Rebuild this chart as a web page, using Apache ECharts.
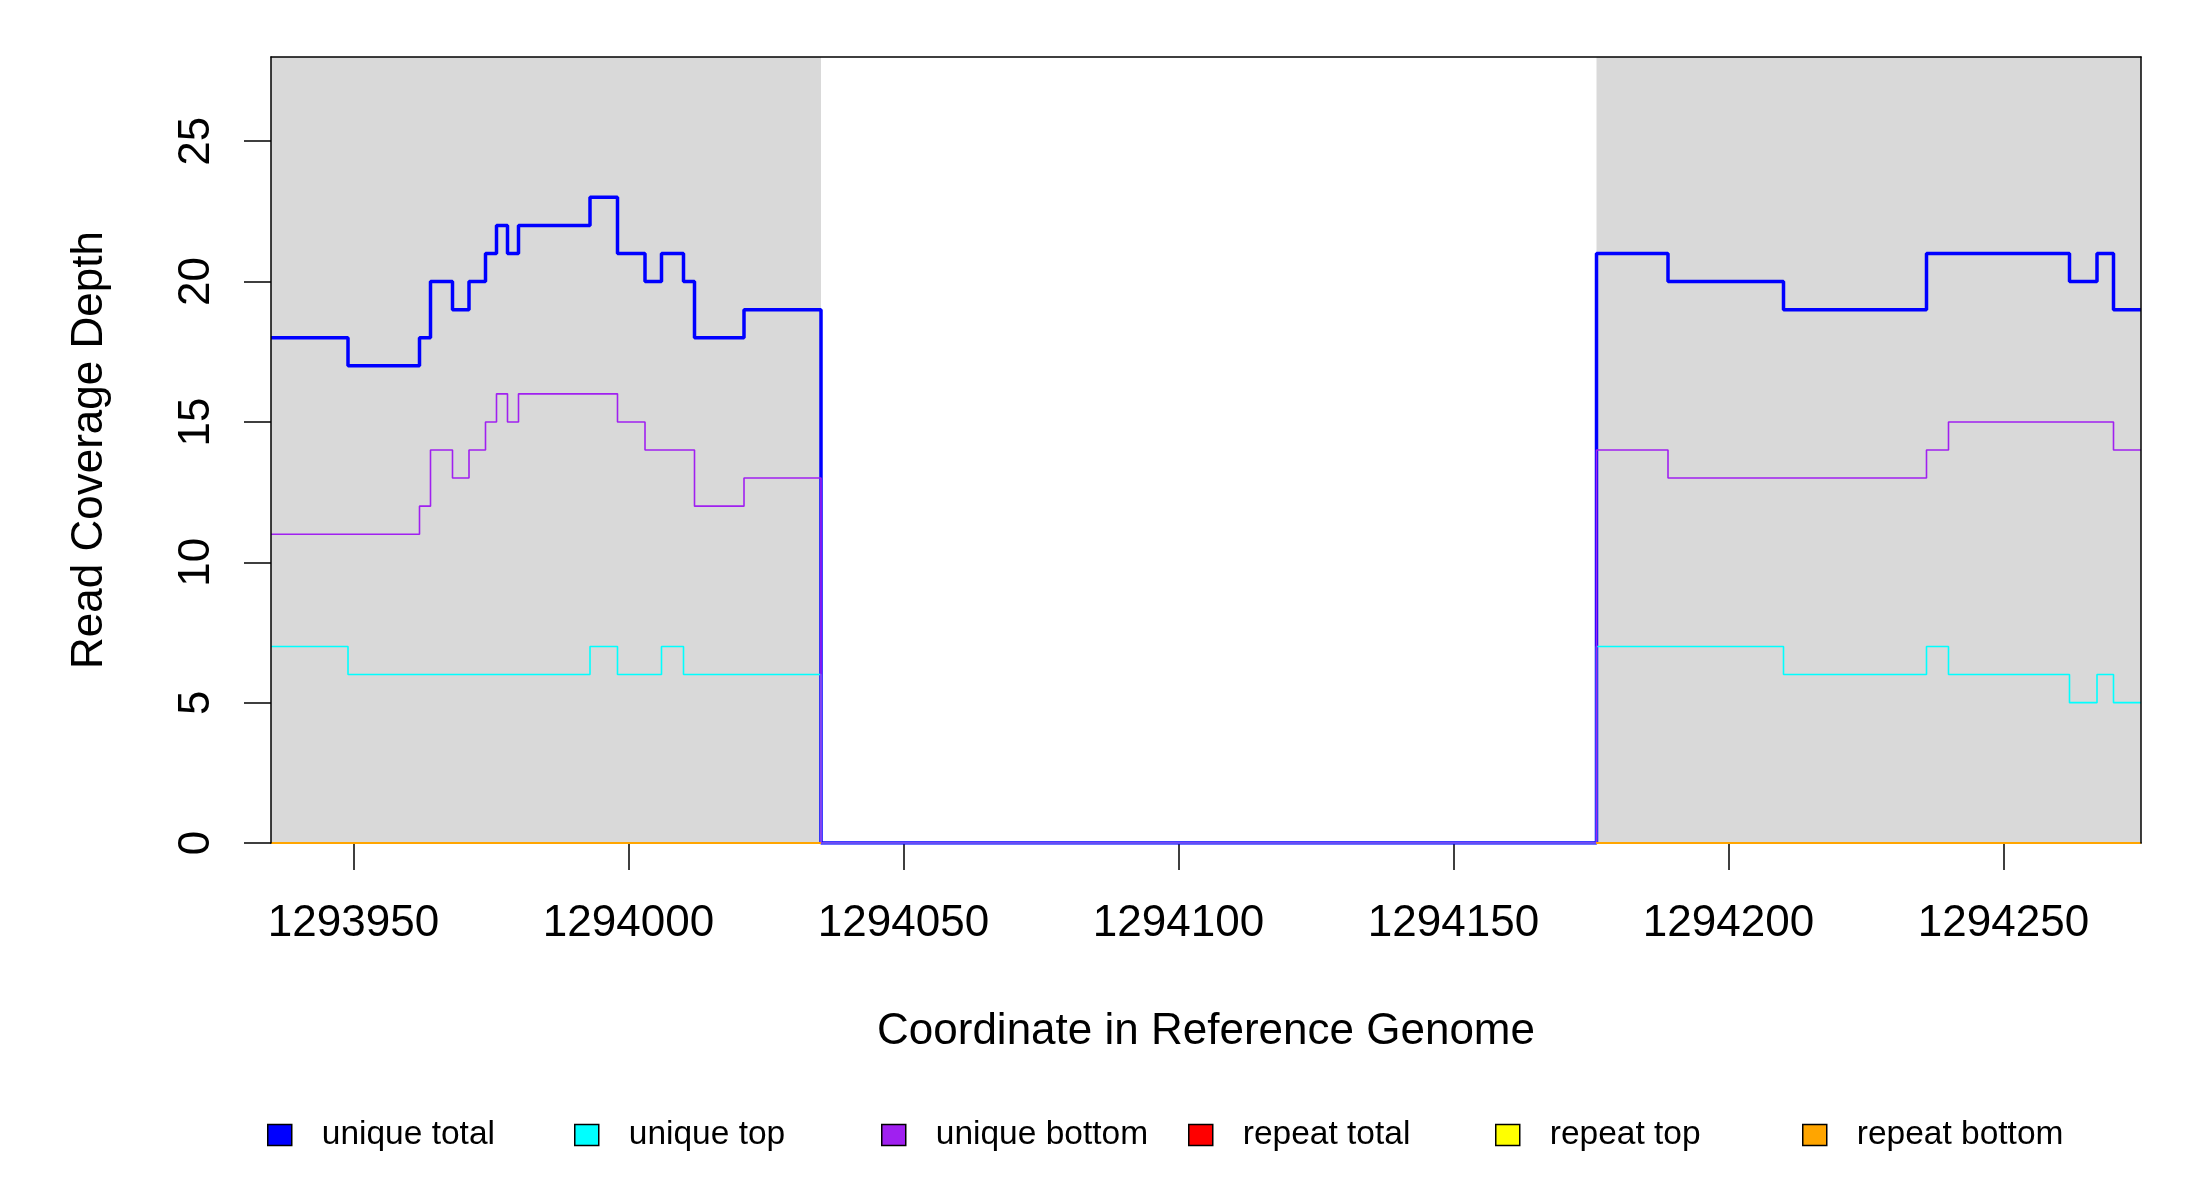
<!DOCTYPE html>
<html>
<head>
<meta charset="utf-8">
<script src="https://cdn.jsdelivr.net/npm/echarts@6/dist/echarts.min.js"></script>
<style>
  html, body { margin: 0; padding: 0; background: #fff; }
  #chart { width: 2200px; height: 1200px; }
</style>
</head>
<body>
<div id="chart"></div>
<script>
// step breakpoints: value i holds from positions[i] to positions[i + 1]
var positions = [1293935, 1293949, 1293962, 1293964, 1293968, 1293971, 1293974, 1293976, 1293978,
    1293980, 1293993, 1293998, 1294003, 1294006, 1294010, 1294012, 1294021, 1294035,
    1294176, 1294189, 1294210, 1294236, 1294240, 1294262, 1294267, 1294270, 1294275];
var uniqueTotal  = [18, 17, 18, 20, 19, 20, 21, 22, 21, 22, 23, 21, 20, 21, 20, 18, 19, 0,
    21, 20, 19, 21, 21, 20, 21, 19, 19];
var uniqueTop    = [7, 6, 6, 6, 6, 6, 6, 6, 6, 6, 7, 6, 6, 7, 6, 6, 6, 0,
    7, 7, 6, 7, 6, 5, 6, 5, 5];
var uniqueBottom = [11, 11, 12, 14, 13, 14, 15, 16, 15, 16, 16, 15, 14, 14, 14, 12, 13, 0,
    14, 13, 13, 14, 15, 15, 15, 14, 14];

// repeat coverage only exists inside the shaded regions (null = break)
var repeatPositions = [1293935, 1294035, 1294105, 1294176, 1294275];
var repeatTotal  = [0, 0, null, 0, 0];
var repeatTop    = [0, 0, null, 0, 0];
var repeatBottom = [0, 0, null, 0, 0];

// shaded regions
var regionStarts = [1293935, 1294176];
var regionEnds   = [1294035, 1294275];

var xTicks = [1293950, 1294000, 1294050, 1294100, 1294150, 1294200, 1294250];
var yTicks = [0, 5, 10, 15, 20, 25];

var seriesNames  = ['unique total', 'unique top', 'unique bottom', 'repeat total', 'repeat top', 'repeat bottom'];
var seriesColors = ['#0000FF', '#00FFFF', '#A020F0', '#FF0000', '#FFFF00', '#FFA500'];

var FONT = 'Liberation Sans, Arial, Helvetica, sans-serif';

function pairs(xs, ys) {
    return xs.map(function (x, i) { return [x, ys[i]]; });
}

var lineData = [
    pairs(positions, uniqueTotal),
    pairs(positions, uniqueTop),
    pairs(positions, uniqueBottom),
    pairs(repeatPositions, repeatTotal),
    pairs(repeatPositions, repeatTop),
    pairs(repeatPositions, repeatBottom)
];
var lineWidths = [3.5, 1.6, 1.6, 2, 2, 2];
var isStep = [true, true, true, false, false, false];

var series = [{
    // shaded background regions
    type: 'line',
    name: 'regions',
    data: [],
    silent: true,
    z: 1,
    markArea: {
        silent: true,
        itemStyle: { color: '#D9D9D9', opacity: 1 },
        data: regionStarts.map(function (s, i) {
            return [{ xAxis: s }, { xAxis: regionEnds[i] }];
        })
    }
}];
seriesNames.forEach(function (name, i) {
    series.push({
        type: 'line',
        name: name,
        data: lineData[i],
        step: isStep[i] ? 'end' : false,
        connectNulls: false,
        showSymbol: false,
        symbol: 'none',
        z: 3,
        lineStyle: { color: seriesColors[i], width: lineWidths[i] },
        itemStyle: { color: seriesColors[i] }
    });
});

var legendLefts = [262, 569, 876, 1183, 1490, 1797];
var legends = seriesNames.map(function (name, i) {
    return {
        data: [name],
        left: legendLefts[i],
        top: 1113,
        icon: 'rect',
        itemWidth: 24,
        itemHeight: 21,
        selectedMode: false,
        itemStyle: { borderColor: '#000', borderWidth: 1.5 },
        textStyle: { fontFamily: FONT, fontSize: 33.5, color: '#000', padding: [0, 0, 0, 25] }
    };
});

var chart = echarts.init(document.getElementById('chart'));
var option = {
    animation: false,
    backgroundColor: '#fff',
    grid: { left: 271, right: 59, top: 57, bottom: 357 },
    legend: legends,
    xAxis: [{
        type: 'value',
        min: 1293935,
        max: 1294275,
        z: 2,
        name: 'Coordinate in Reference Genome',
        nameLocation: 'middle',
        nameGap: 167,
        nameTextStyle: { fontFamily: FONT, fontSize: 44, color: '#000' },
        axisLine: { show: true, onZero: false, lineStyle: { color: '#000', width: 1.5 } },
        axisTick: { show: true, length: 27, customValues: xTicks, lineStyle: { color: '#000', width: 1.5 } },
        axisLabel: {
            customValues: xTicks, margin: 59, fontFamily: FONT, fontSize: 44, color: '#000',
            formatter: function (v) { return String(v); }
        },
        splitLine: { show: false }
    }, {
        type: 'value',
        position: 'top',
        min: 1293935,
        max: 1294275,
        z: 10,
        axisLine: { show: true, onZero: false, lineStyle: { color: '#000', width: 1.5 } },
        axisTick: { show: false },
        axisLabel: { show: false },
        splitLine: { show: false }
    }],
    yAxis: [{
        type: 'value',
        min: 0,
        max: 28,
        z: 10,
        name: 'Read Coverage Depth',
        nameLocation: 'middle',
        nameGap: 159,
        nameTextStyle: { fontFamily: FONT, fontSize: 44, color: '#000' },
        axisLine: { show: true, onZero: false, lineStyle: { color: '#000', width: 1.5 } },
        axisTick: { show: true, length: 27, customValues: yTicks, lineStyle: { color: '#000', width: 1.5 } },
        axisLabel: { customValues: yTicks, rotate: 90, margin: 52, fontFamily: FONT, fontSize: 44, color: '#000' },
        splitLine: { show: false }
    }, {
        type: 'value',
        position: 'right',
        min: 0,
        max: 28,
        z: 10,
        axisLine: { show: true, onZero: false, lineStyle: { color: '#000', width: 1.5 } },
        axisTick: { show: false },
        axisLabel: { show: false },
        splitLine: { show: false }
    }],
    series: series
};
chart.setOption(option);
</script>
</body>
</html>
